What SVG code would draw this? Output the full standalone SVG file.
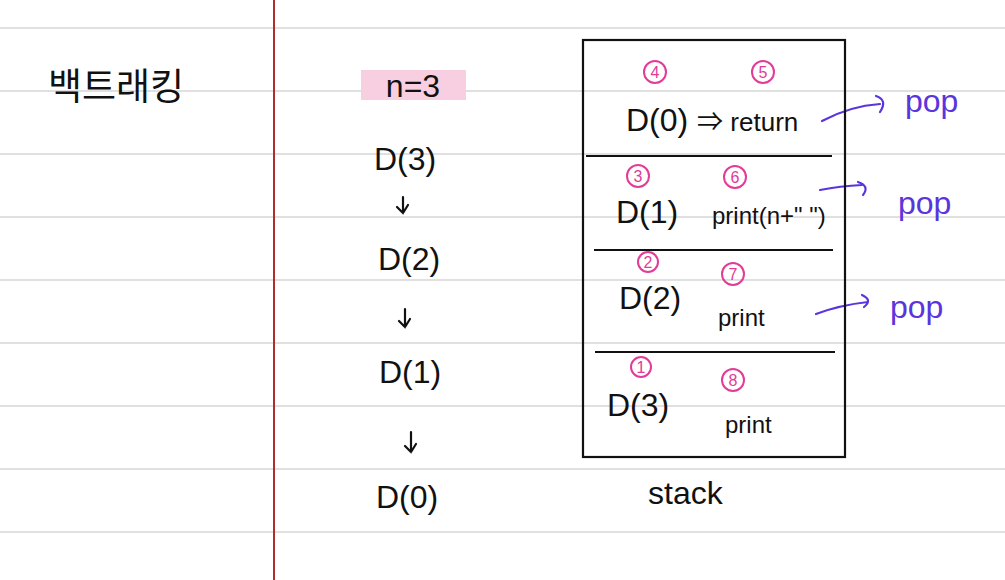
<svg xmlns="http://www.w3.org/2000/svg" width="1005" height="580" viewBox="0 0 1005 580">
<style>
.rule{stroke:#d6d6d6;stroke-width:1.5}
.t{font-family:"Liberation Sans","Noto Sans CJK KR",sans-serif;fill:#111}
.big{font-size:32px}
.sm{font-size:24px}
.num{fill:none;stroke:#e23b98;stroke-width:2}
.nt{font-family:"Liberation Sans",sans-serif;font-size:16px;fill:#e23b98;text-anchor:middle}
.pop{font-family:"Liberation Sans",sans-serif;font-size:32px;fill:#5a35dd}
.blue{fill:none;stroke:#5a35dd;stroke-width:2.2;stroke-linecap:round}
.dn{fill:none;stroke:#111;stroke-width:2.2;stroke-linecap:round}
</style>
<rect width="1005" height="580" fill="#fff"/>
<g id="paper">
<line class="rule" x1="0" y1="28" x2="1005" y2="28"/>
<line class="rule" x1="0" y1="91" x2="1005" y2="91"/>
<line class="rule" x1="0" y1="154" x2="1005" y2="154"/>
<line class="rule" x1="0" y1="217" x2="1005" y2="217"/>
<line class="rule" x1="0" y1="280" x2="1005" y2="280"/>
<line class="rule" x1="0" y1="343" x2="1005" y2="343"/>
<line class="rule" x1="0" y1="406" x2="1005" y2="406"/>
<line class="rule" x1="0" y1="469" x2="1005" y2="469"/>
<line class="rule" x1="0" y1="532" x2="1005" y2="532"/>
<line x1="274" y1="0" x2="274" y2="580" stroke="#b52a2a" stroke-width="2"/>
</g>
<g id="title"><text class="t" x="48" y="100" font-size="37">백트래킹</text></g>
<g id="n3">
<rect x="361" y="70" width="105" height="30" fill="#f7cfe0"/>
<text class="t big" x="413" y="97" text-anchor="middle">n=3</text>
</g>
<g id="calls" class="t big" text-anchor="middle">
<text x="405" y="170">D(3)</text>
<text x="409" y="270">D(2)</text>
<text x="410" y="383">D(1)</text>
<text x="407" y="508">D(0)</text>
</g>
<g id="connectors">
<path class="dn" d="M403 197 L403 213 M397 207 L403 213 L408 205"/>
<path class="dn" d="M405 309 L405 327 M399 321 L405 327 L410 319"/>
<path class="dn" d="M411 432 L411 452 M405 446 L411 452 L416 444"/>
<path class="blue" d="M822 121 Q850 106 880 104 M876 96 Q888 100 880 112"/>
<path class="blue" d="M820 190 Q840 186 862 185 M858 182 Q870 186 863 195"/>
<path class="blue" d="M816 314 Q840 305 868 302 M862 295 Q873 300 864 307"/>
</g>
<g id="stack">
<rect x="583" y="40" width="262" height="417" fill="none" stroke="#111" stroke-width="2.2"/>
<line x1="586" y1="156" x2="832" y2="156" stroke="#111" stroke-width="2.2"/>
<line x1="594" y1="250" x2="833" y2="250" stroke="#111" stroke-width="2.2"/>
<line x1="595" y1="352" x2="835" y2="352" stroke="#111" stroke-width="2.2"/>
</g>
<g id="row4">
<circle class="num" cx="655" cy="72" r="11"/><text class="nt" x="655" y="78">4</text>
<circle class="num" cx="763" cy="72" r="11"/><text class="nt" x="763" y="78">5</text>
<text class="t big" x="626" y="131">D(0) <tspan font-size="26">⇒ return</tspan></text>
</g>
<g id="row3">
<circle class="num" cx="638" cy="176" r="11"/><text class="nt" x="638" y="182">3</text>
<circle class="num" cx="735" cy="177" r="11"/><text class="nt" x="735" y="183">6</text>
<text class="t big" x="616" y="223">D(1)</text>
<text class="t sm" x="712" y="224">print(n+" ")</text>
</g>
<g id="row2">
<circle class="num" cx="648" cy="262" r="10"/><text class="nt" x="648" y="268">2</text>
<circle class="num" cx="733" cy="274" r="11"/><text class="nt" x="733" y="280">7</text>
<text class="t big" x="619" y="309">D(2)</text>
<text class="t sm" x="718" y="326">print</text>
</g>
<g id="row1">
<circle class="num" cx="641" cy="367" r="10"/><text class="nt" x="641" y="373">1</text>
<circle class="num" cx="733" cy="380" r="11"/><text class="nt" x="733" y="386">8</text>
<text class="t big" x="607" y="416">D(3)</text>
<text class="t sm" x="725" y="433">print</text>
</g>
<g id="stacklabel"><text class="t" x="648" y="504" font-size="32">stack</text></g>
<g id="pops">
<text class="pop" x="905" y="112">pop</text>
<text class="pop" x="898" y="214">pop</text>
<text class="pop" x="890" y="318">pop</text>
</g>
</svg>
